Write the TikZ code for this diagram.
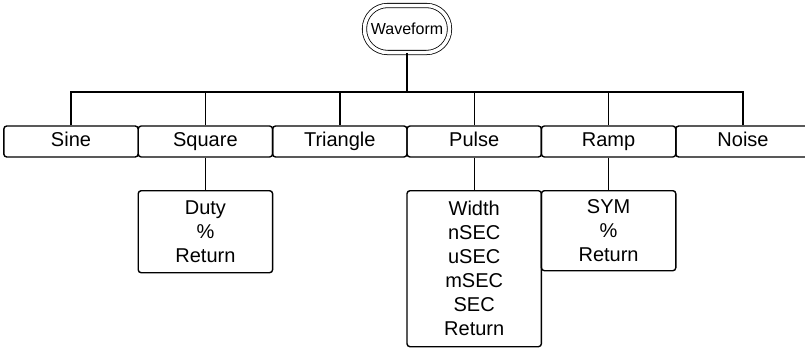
\documentclass[tikz,border=0pt]{standalone}
\usepackage{fontspec}
\setmainfont{Liberation Sans}
\usetikzlibrary{calc}
\tikzset{
  line/.style={draw=black, line width=1.4pt},
  root/.style={draw=black, double, double distance=3.5pt, line width=0.8pt, rounded corners=23pt,
    minimum width=85pt, minimum height=47pt, inner sep=0pt, font=\fontsize{16}{18}\selectfont},
  menu/.style={draw=black, line width=1.4pt, rounded corners=3pt, minimum width=134.4pt,
    minimum height=31pt, inner sep=0pt, font=\fontsize{20}{24}\selectfont},
  rowmenu/.style={menu, text height=14.5pt, text depth=4pt},
  submenu/.style={menu, align=center, anchor=north},
}
\begin{document}
\begin{tikzpicture}[x=1pt,y=-1pt]
\def\W{134.4}
\def\Y{141.5}
\clip (0,0) rectangle (805,348);
% root
\node[root] (wave) at (407,29) {Waveform};
% first menu row
\foreach \name/\txt [count=\i from 0] in {sine/Sine, square/Square, tri/Triangle, pulse/Pulse, ramp/Ramp, noise/Noise}
  \node[rowmenu] (\name) at (71+\W*\i,\Y) {\txt};
% bus
\coordinate (bus) at (0,92);
\draw[line] (sine.north) -- (sine.north |- bus) -- (noise.north |- bus) -- (noise.north);
\foreach \name in {square, tri, pulse, ramp}
  \draw[line] (\name.north) -- (\name.north |- bus);
\draw[line] (wave.south) -- (wave.south |- bus);
% sub menus
\node[submenu, minimum height=82pt] (duty) at (square.center |- 0,190) {Duty\\\%\\Return};
\node[submenu, minimum height=156pt] (width) at (pulse.center |- 0,190) {Width\\nSEC\\uSEC\\mSEC\\SEC\\Return};
\node[submenu, minimum height=80pt] (sym) at (ramp.center |- 0,190) {SYM\\\%\\Return};
\draw[line] (square.south) -- (duty.north);
\draw[line] (pulse.south) -- (width.north);
\draw[line] (ramp.south) -- (sym.north);
\end{tikzpicture}
\end{document}
